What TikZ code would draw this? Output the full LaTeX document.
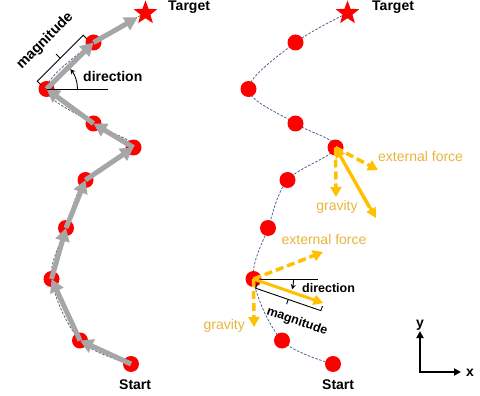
\documentclass[tikz,border=0pt]{standalone}
\usepackage{fontspec}
\setmainfont{Liberation Sans}
\usetikzlibrary{arrows.meta,shapes.geometric}
\definecolor{dotred}{RGB}{255,0,0}
\definecolor{arrgray}{RGB}{166,166,166}
\definecolor{gold}{RGB}{255,192,0}
\definecolor{goldtext}{RGB}{232,180,60}
\definecolor{pathblue}{RGB}{80,100,135}
\begin{document}
\begin{tikzpicture}[x=1pt,y=-1pt,
  dot/.style={circle,fill=dotred,inner sep=0pt,minimum size=16pt},
  starnode/.style={star,star points=5,star point ratio=2.4,fill=dotred,inner sep=0pt,minimum size=25pt},
  trail/.style={pathblue,line width=0.8pt,dash pattern=on 2.5pt off 1.5pt},
  garrow/.style={arrgray,line width=5pt,-{Triangle[length=13pt,width=14pt]}},
  ydash/.style={gold,line width=3.5pt,dash pattern=on 8pt off 4pt,-{Triangle[length=10pt,width=11pt]}},
  ysolid/.style={gold,line width=3pt,-{Triangle[length=10pt,width=10pt]}},
  thinblack/.style={black,line width=0.9pt},
  lbl/.style={font=\fontsize{14}{16}\selectfont\bfseries,inner sep=0pt},
  slbl/.style={font=\fontsize{12.5}{14}\selectfont\bfseries,inner sep=0pt},
  ylbl/.style={font=\fontsize{14}{16}\selectfont,text=goldtext,inner sep=0pt},
  axis/.style={black,line width=2pt,{Triangle[length=7pt,width=7pt]}-{Triangle[length=7pt,width=7pt]}}
]
\useasboundingbox (0,0) rectangle (480,396);
% left points
\coordinate (p0) at (131,364);
\coordinate (p1) at (80,340.5);
\coordinate (p2) at (51.5,279);
\coordinate (p3) at (66,228);
\coordinate (p4) at (85.5,180);
\coordinate (p5) at (133.5,147.5);
\coordinate (p6) at (93.5,123.5);
\coordinate (p7) at (46.5,89);
\coordinate (p8) at (93.5,42.5);
\coordinate (p9) at (145.5,13);
% right points
\coordinate (q0) at (333,364);
\coordinate (q1) at (282,340.5);
\coordinate (q2) at (253.5,279);
\coordinate (q3) at (268,228);
\coordinate (q4) at (287.5,180);
\coordinate (q5) at (335.5,147.5);
\coordinate (q6) at (295.5,123.5);
\coordinate (q7) at (248.5,89);
\coordinate (q8) at (295.5,42.5);
\coordinate (q9) at (347.5,13);

% trails
\draw[trail] plot[smooth,tension=0.55] coordinates {(p0)(p1)(p2)(p3)(p4)(p5)(p6)(p7)(p8)(p9)};
\draw[trail] plot[smooth,tension=0.55] coordinates {(q0)(q1)(q2)(q3)(q4)(q5)(q6)(q7)(q8)(q9)};

% dots
\foreach \i in {0,...,8} {
  \node[dot] (L\i) at (p\i) {};
  \node[dot] (R\i) at (q\i) {};
}

% left gray arrows
\foreach \a/\b in {0/1,1/2,2/3,3/4,4/5,5/6,6/7,7/8}
  \draw[garrow] (L\a.center) -- (L\b.center);
\draw[garrow,shorten >=9pt] (L8.center) -- (p9);

% stars
\node[starnode] (LT) at (p9) {};
\node[starnode] (RT) at (q9) {};

% labels start / target
\node[lbl,anchor=base west] (ltgt) at (168,11) {Target};
\node[lbl,anchor=base west] (rtgt) at (372,11) {Target};
\node[lbl,anchor=base west] (lstart) at (119,389) {Start};
\node[lbl,anchor=base west] (rstart) at (322,389) {Start};

% left annotations
\coordinate (H7) at (108,89);
\draw[thinblack] (L7.center) -- (H7);
\draw[thinblack,-{Stealth[length=5pt,width=5pt]}] (77.5,89) arc[start angle=0,end angle=-40,radius=31];
\node[lbl,anchor=base west] (ldir) at (83,81.5) {direction};
\begin{scope}[shift={(p7)},rotate=45]
  \draw[thinblack] (-1,-7) -- (-1,-12) -- (64,-12) -- (64,-7);
  \draw[thinblack] (31.5,-12) -- (31.5,-18);
  \node[lbl,font=\fontsize{14.5}{16}\selectfont\bfseries,rotate=45] (lmag) at (33,-35) {magnitude};
\end{scope}

% right annotations at point 5
\coordinate (E5) at (378,170);
\coordinate (G5) at (336,197);
\coordinate (M5) at (376,218);
\coordinate (N5) at (369,207);
\draw[ydash] (R5.center) -- (E5);
\draw[ydash] (R5.center) -- (G5);
\draw[ysolid] (N5) -- (R5.center);
\draw[ysolid] (R5.center) -- (M5);
\node[ylbl,anchor=base west] (ext5) at (378,161.5) {external force};
\node[ylbl,anchor=base] (grav5) at (337,210) {gravity};

% right annotations at point 2
\coordinate (E2) at (323,252);
\coordinate (G2) at (254,327);
\coordinate (H2) at (318,279);
\draw[ydash] (R2.center) -- (E2);
\draw[ydash] (R2.center) -- (G2);
\draw[thinblack] (R2.center) -- (H2);
\draw[thinblack,-{Stealth[length=5pt,width=5pt]}] (293.5,279) arc[start angle=0,end angle=15,radius=40];
\begin{scope}[shift={(q2)},rotate=-19]
  \coordinate (F2) at (74,0);
  \draw[thinblack] (5,3) -- (5,8) -- (74,8) -- (74,3);
  \draw[thinblack] (39.5,8) -- (39.5,13);
  \node[slbl,rotate=-19] (rmag) at (55,26) {magnitude};
\end{scope}
\draw[ysolid] (R2.center) -- (F2);
\node[slbl,anchor=base west] (rdir) at (302,292) {direction};
\node[ylbl,anchor=base] (ext2) at (324,244) {external force};
\node[ylbl,anchor=base east] (grav2) at (245,329) {gravity};

% axes
\coordinate (O) at (420,372);
\coordinate (AY) at (420,331);
\coordinate (AX) at (461,372);
\draw[axis] (AY) -- (O) -- (AX);
\node[lbl,anchor=base] (ylab) at (420,327) {y};
\node[lbl,anchor=base] (xlab) at (470,376) {x};
\end{tikzpicture}
\end{document}
